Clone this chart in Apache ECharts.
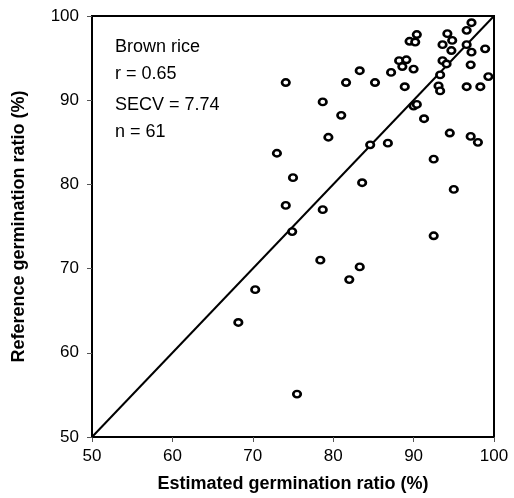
<!DOCTYPE html>
<html>
<head>
<meta charset="utf-8">
<script src="https://cdn.jsdelivr.net/npm/echarts@6/dist/echarts.min.js"></script>
<style>html,body{margin:0;padding:0;background:#fff}#c{width:514px;height:498px}</style>
</head>
<body>
<div id="c"></div>
<script>
// Estimated germination ratio (%)
const estimated = [68.2,70.3,73.0,74.1,74.1,75.0,75.5,74.9,78.7,78.7,78.4,79.4,81.0,81.6,82.0,83.3,83.3,83.6,84.6,85.2,86.8,87.2,88.2,88.6,89.1,88.9,89.5,90.0,90.2,90.4,90.0,90.4,91.3,92.5,92.5,93.1,93.3,93.3,93.6,94.1,93.6,94.2,94.8,94.7,94.5,95.0,96.6,97.2,96.6,97.2,97.1,96.6,97.1,98.0,98.9,99.3,98.3];
// Reference germination ratio (%)
const reference = [63.6,67.5,83.7,92.1,77.5,80.8,55.1,74.4,89.8,77.0,71.0,85.6,88.2,92.1,68.7,70.2,93.5,80.2,84.7,92.1,84.9,93.3,94.7,94.0,94.8,91.6,97.0,93.7,96.9,97.8,89.3,89.5,87.8,83.0,73.9,91.7,91.1,93.0,94.7,94.3,96.6,97.9,97.1,95.9,86.1,79.4,98.3,99.2,96.6,95.7,94.2,91.6,85.7,85.0,96.1,92.8,91.6];
const lineX = [50,100];
const lineY = [50,100];
const tickValues = [50,60,70,80,90,100];
const statLines = ['Brown rice','r = 0.65','SECV = 7.74','n = 61'];

const FONT = 'Liberation Sans, Arial, Helvetica, sans-serif';
const chart = echarts.init(document.getElementById('c'), null, {renderer:'canvas'});
const pts = estimated.map((x,i)=>[x,reference[i]]);
const linePts = lineX.map((x,i)=>[x,lineY[i]]);
const lineTops = [47.7,75,106,132.7];
chart.setOption({
  animation:false,
  backgroundColor:'#fff',
  grid:{left:92,right:20,top:16,bottom:60,show:true,borderColor:'#000',borderWidth:2,backgroundColor:'transparent'},
  xAxis:{type:'value',min:tickValues[0],max:tickValues[tickValues.length-1],interval:10,
    name:'Estimated germination ratio (%)',nameLocation:'middle',nameGap:38,
    nameTextStyle:{fontFamily:FONT,fontSize:18,fontWeight:'bold',color:'#000'},
    axisLine:{show:true,lineStyle:{color:'#000',width:2}},
    axisTick:{show:true,length:5,lineStyle:{color:'#555',width:1}},
    axisLabel:{fontFamily:FONT,fontSize:17,color:'#000',margin:11},
    splitLine:{show:false}},
  yAxis:{type:'value',min:tickValues[0],max:tickValues[tickValues.length-1],interval:10,
    name:'Reference germination ratio (%)',nameLocation:'middle',nameGap:64,
    nameTextStyle:{fontFamily:FONT,fontSize:18,fontWeight:'bold',color:'#000'},
    axisLine:{show:true,lineStyle:{color:'#000',width:2}},
    axisTick:{show:true,length:5,lineStyle:{color:'#555',width:1}},
    axisLabel:{fontFamily:FONT,fontSize:17,color:'#000',margin:13},
    splitLine:{show:false}},
  graphic: statLines.map((t,i)=>({type:'text',left:115,top:lineTops[i]-10,
    style:{text:t,font:'18px '+FONT,fill:'#000'}})),
  series:[
    {type:'line',data:linePts,symbol:'none',lineStyle:{color:'#000',width:2},z:2},
    {type:'scatter',data:pts,symbol:'circle',symbolSize:[7.5,6.5],
      itemStyle:{color:'#fff',borderColor:'#000',borderWidth:2.5,opacity:1},z:3}
  ]
});
</script>
</body>
</html>
